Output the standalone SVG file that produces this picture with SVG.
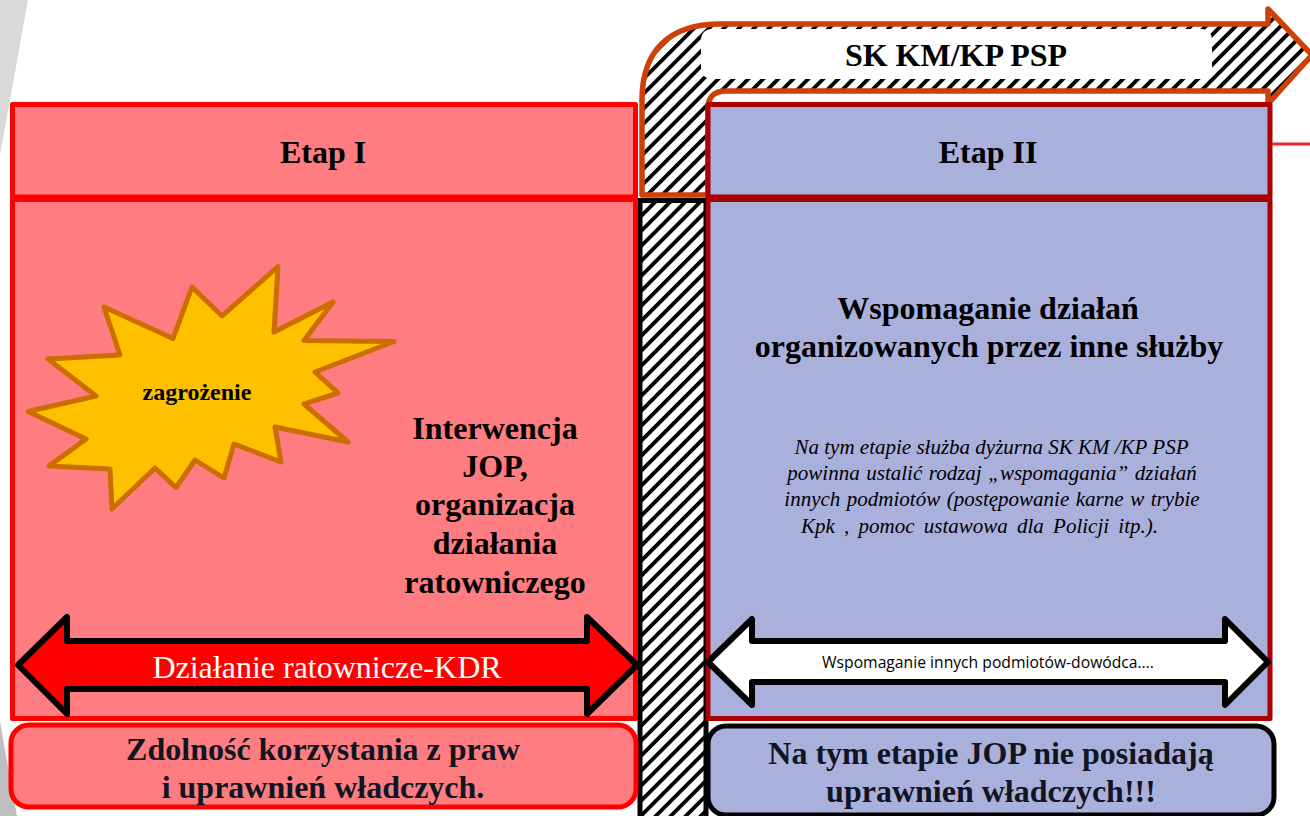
<svg xmlns="http://www.w3.org/2000/svg" width="1310" height="816" viewBox="0 0 1310 816">
<style>
.s{font-family:"Liberation Serif","Times New Roman",serif}
.b{font-weight:bold;text-anchor:middle;fill:#000}
.d{fill:#111522}
.red{fill:#ff7c80;stroke:#ff0000;stroke-linejoin:round}
.blue{fill:#a9b0dc;stroke:#aa0000;stroke-linejoin:round}
</style>
<defs>
<pattern id="hatch" patternUnits="userSpaceOnUse" width="10.6" height="10.6" patternTransform="rotate(45)">
<rect width="10.6" height="10.6" fill="#fff"/><rect width="3.8" height="10.6" fill="#000"/>
</pattern>
</defs>
<rect width="1310" height="816" fill="#fff"/>
<polygon points="0,0 28,0 0,155" fill="#d9d9d9"/>
<polygon points="0,722 17,816 0,816" fill="#bfbfbf"/>

<g id="bent-arrow">
<path d="M642,195V100C642,50 670,24 720,24H1268V9L1312,55L1268,104V91H726C714,91 708,97 708,108V195Z" fill="url(#hatch)" stroke="#cf4008" stroke-width="5.5" stroke-linejoin="round"/>
<rect x="701" y="29" width="511" height="50" rx="10" fill="#fff"/>
<text class="s b" x="956" y="66" font-size="32">SK KM/KP PSP</text>
</g>
<g id="column">
<rect x="640" y="200.5" width="66" height="620" fill="url(#hatch)" stroke="#000" stroke-width="5"/>
</g>
<g id="etap1-head">
<rect class="red" x="12.5" y="104.5" width="623" height="92.5" stroke-width="5"/>
<text class="s b" x="323" y="163" font-size="32">Etap I</text>
</g>
<g id="etap1-body">
<rect class="red" x="12.5" y="199.5" width="623" height="519" stroke-width="5"/>
<text class="s b" x="495" y="439" font-size="32">Interwencja</text>
<text class="s b" x="495" y="477" font-size="32">JOP,</text>
<text class="s b" x="495" y="515" font-size="32">organizacja</text>
<text class="s b" x="495" y="554" font-size="32">działania</text>
<text class="s b" x="495" y="593" font-size="32">ratowniczego</text>
</g>
<g id="star">
<polygon points="278,266.5 274,332 333,302 304,340.5 394,341.5 315,372 338,393 304,404 348,442 275,427 281,462 234,444 224,478 195,460 176,487.5 155,468 112,509 110,469 49,466 86,439 28,411.5 96,396 48,359 120,355 104,307 173,338.5 192,287 222,316" fill="#ffc000" stroke="#cc6d00" stroke-width="5" stroke-linejoin="round"/>
<text class="s b" x="197" y="400" font-size="24">zagrożenie</text>
</g>
<g id="etap2-head">
<rect class="blue" x="708" y="104.5" width="562" height="92.5" stroke-width="5"/>
<text class="s b" x="988" y="163" font-size="32">Etap II</text>
</g>
<g id="etap2-body">
<rect class="blue" x="708" y="199.5" width="562" height="519" stroke-width="5"/>
<text class="s b" x="988" y="319" font-size="32">Wspomaganie działań</text>
<text class="s b" x="989" y="357" font-size="32">organizowanych przez inne służby</text>
<g class="s" font-style="italic" font-size="21" text-anchor="middle" fill="#000">
<text x="991.5" y="454">Na tym etapie służba dyżurna SK KM /KP PSP</text>
<text x="992" y="480" word-spacing="1.3">powinna ustalić rodzaj „wspomagania” działań</text>
<text x="992" y="506" word-spacing="1.3">innych podmiotów (postępowanie karne w trybie</text>
<text x="979.5" y="533" word-spacing="4">Kpk , pomoc ustawowa dla Policji itp.).</text>
</g>
</g>
<g id="arrow-red">
<polygon points="18,665 67,617 67,641 587,641 587,617 637,665 587,714 587,689 67,689 67,714" fill="#ff0000" stroke="#000" stroke-width="6" stroke-linejoin="round"/>
<text class="s" x="327" y="678" font-size="32" text-anchor="middle" fill="#fff">Działanie ratownicze-KDR</text>
</g>
<g id="arrow-white">
<polygon points="708,662 752,619 752,641 1225,641 1225,619 1268,662 1225,705 1225,682 752,682 752,705" fill="#fff" stroke="#000" stroke-width="6" stroke-linejoin="round"/>
<text x="988" y="668" font-family="'Open Sans','Noto Sans',sans-serif" font-size="15.7" text-anchor="middle" fill="#000">Wspomaganie innych podmiotów-dowódca….</text>
</g>
<g id="note-left">
<rect class="red" x="11" y="725" width="625" height="82" rx="18" stroke-width="5"/>
<text class="s b d" x="323" y="760" font-size="32">Zdolność korzystania z praw</text>
<text class="s b d" x="323" y="798" font-size="32">i uprawnień władczych.</text>
</g>
<g id="note-right">
<rect x="708" y="726" width="566" height="89" rx="18" fill="#a9b0dc" stroke="#000" stroke-width="5"/>
<text class="s b d" x="991" y="764" font-size="32">Na tym etapie JOP nie posiadają</text>
<text class="s b d" x="991" y="802" font-size="32">uprawnień władczych!!!</text>
</g>
<g id="connectors">
<line x1="1272" y1="144" x2="1310" y2="144" stroke="#ee2233" stroke-width="3"/>
</g>
</svg>
